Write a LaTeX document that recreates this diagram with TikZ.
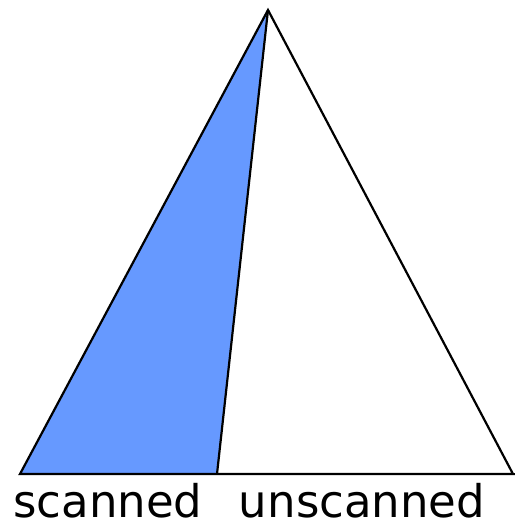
\documentclass[tikz,border=0pt]{standalone}
\usepackage{fontspec}
\setmainfont{DejaVu Sans}
\usetikzlibrary{positioning}

\definecolor{scanblue}{HTML}{6699FF}

\begin{document}
\begin{tikzpicture}[
  x=1pt, y=-1pt,
  edge/.style={draw=black, line width=2.2pt, line join=miter},
  lbl/.style={font=\fontsize{45}{50}\selectfont, inner sep=0pt, anchor=base}
]
\useasboundingbox (0,0) rectangle (515,525);

% ---- corners ----
\coordinate (apex) at (268,10);
\coordinate (left) at (20,474);
\coordinate (split) at (217,474);
\coordinate (right) at (513,474);

% ---- scanned part ----
\fill[scanblue] (apex) -- (left) -- (split) -- cycle;

% ---- outline ----
\draw[edge] (apex) -- (left) -- (right) -- cycle;
\draw[edge] (apex) -- (split);
\draw[edge] (left) -- (515,474);

% ---- labels ----
\node[lbl] (scanned) at (108,517) {scanned};
\node[lbl] (unscanned) at (362,517) {unscanned};

\end{tikzpicture}
\end{document}
